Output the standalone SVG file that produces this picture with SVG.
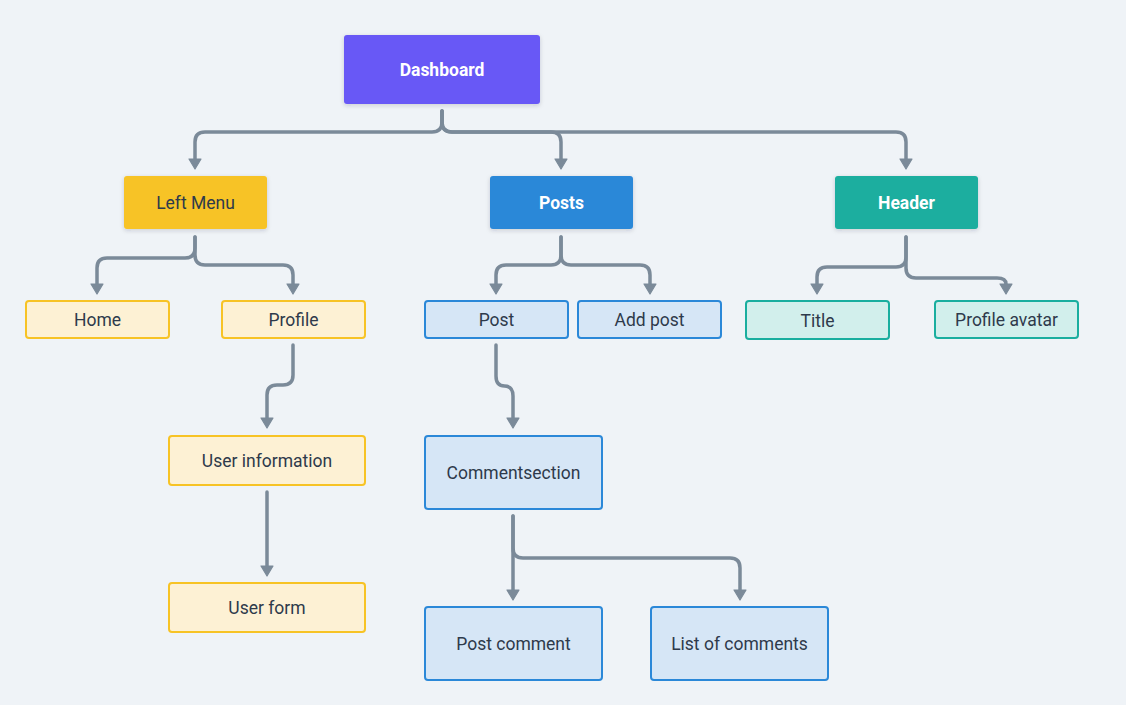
<svg xmlns="http://www.w3.org/2000/svg" width="1126" height="705" viewBox="0 0 1126 705">
<defs>
<filter id="sh" x="-10%" y="-20%" width="120%" height="150%">
<feDropShadow dx="0" dy="1.5" stdDeviation="2" flood-color="#1e2b3a" flood-opacity="0.18"/>
</filter>
<marker id="arr" markerUnits="userSpaceOnUse" viewBox="-1 -8 13 16" refX="0" refY="0" markerWidth="13" markerHeight="16" orient="auto">
<path d="M0,-6 L10,0 L0,6 Z" fill="#7b8a99" stroke="#7b8a99" stroke-width="1.2" stroke-linejoin="round"/>
</marker>
</defs>
<style>
text{font-family:Roboto,"Liberation Sans",sans-serif;font-size:17.5px;text-anchor:middle;fill:#2e3a4b}
.w{fill:#ffffff;font-weight:bold}
.yl{fill:#fdf1d4;stroke:#f7c325;stroke-width:2}
.bl{fill:#d6e6f6;stroke:#2b88d8;stroke-width:2}
.tl{fill:#d2efec;stroke:#1aae9f;stroke-width:2}
.c path{fill:none;stroke:#7b8a99;stroke-width:3.5;stroke-linecap:round;stroke-linejoin:round;marker-end:url(#arr)}
</style>
<rect width="1126" height="705" fill="#eff3f7"/>
<g class="c" id="connectors">
<path d="M442,111 V122 Q442,132 432,132 H205 Q195,132 195,142 V159"/>
<path d="M442,111 V122 Q442,132 452,132 H551 Q561,132 561,142 V159"/>
<path d="M442,111 V122 Q442,132 452,132 H896 Q906,132 906,142 V159"/>
<path d="M195,237 V248 Q195,258 185,258 H107 Q97,258 97,268 V284"/>
<path d="M195,237 V255 Q195,265 205,265 H283 Q293,265 293,275 V284"/>
<path d="M561,237 V255 Q561,265 551,265 H506 Q496,265 496,275 V284"/>
<path d="M561,237 V255 Q561,265 571,265 H640 Q650,265 650,275 V284"/>
<path d="M906,237 V257 Q906,267 896,267 H827 Q817,267 817,277 V284"/>
<path d="M906,237 V268 Q906,278 916,278 H997 Q1006,278 1006,284"/>
<path d="M293,345 V375 Q293,385 283,385 H277 Q267,385 267,395 V418"/>
<path d="M496,345 V376 Q496,386 504.5,386 Q513,386 513,396 V418"/>
<path d="M267,492 V566"/>
<path d="M513,516 V590"/>
<path d="M513,516 V548 Q513,558 523,558 H730 Q740,558 740,568 V590"/>
</g>
<g id="dashboard"><rect x="344" y="35" width="196" height="69" rx="3" fill="#6858f6" filter="url(#sh)"/><text class="w" x="442" y="76">Dashboard</text></g>
<g id="left-menu"><rect x="124" y="176" width="143" height="53" rx="3" fill="#f7c325" filter="url(#sh)"/><text x="195.5" y="209">Left Menu</text></g>
<g id="posts"><rect x="490" y="176" width="143" height="53" rx="3" fill="#2b88d8" filter="url(#sh)"/><text class="w" x="561.5" y="209">Posts</text></g>
<g id="header"><rect x="835" y="176" width="143" height="53" rx="3" fill="#1aae9f" filter="url(#sh)"/><text class="w" x="906.5" y="209">Header</text></g>
<g id="home"><rect class="yl" x="26" y="301" width="143" height="37" rx="3"/><text x="97.5" y="326">Home</text></g>
<g id="profile"><rect class="yl" x="222" y="301" width="143" height="37" rx="3"/><text x="293.5" y="326">Profile</text></g>
<g id="post"><rect class="bl" x="425" y="301" width="143" height="37" rx="3"/><text x="496.5" y="326">Post</text></g>
<g id="add-post"><rect class="bl" x="578" y="301" width="143" height="37" rx="3"/><text x="649.5" y="326">Add post</text></g>
<g id="title"><rect class="tl" x="746" y="301" width="143" height="38" rx="3"/><text x="817.5" y="327">Title</text></g>
<g id="profile-avatar"><rect class="tl" x="935" y="301" width="143" height="37" rx="3"/><text x="1006.5" y="326">Profile avatar</text></g>
<g id="user-information"><rect class="yl" x="169" y="436" width="196" height="49" rx="3"/><text x="267" y="467">User information</text></g>
<g id="user-form"><rect class="yl" x="169" y="583" width="196" height="49" rx="3"/><text x="267" y="614">User form</text></g>
<g id="commentsection"><rect class="bl" x="425" y="436" width="177" height="73" rx="3"/><text x="513.5" y="479">Commentsection</text></g>
<g id="post-comment"><rect class="bl" x="425" y="607" width="177" height="73" rx="3"/><text x="513.5" y="650">Post comment</text></g>
<g id="list-of-comments"><rect class="bl" x="651" y="607" width="177" height="73" rx="3"/><text x="739.5" y="650">List of comments</text></g>
</svg>
